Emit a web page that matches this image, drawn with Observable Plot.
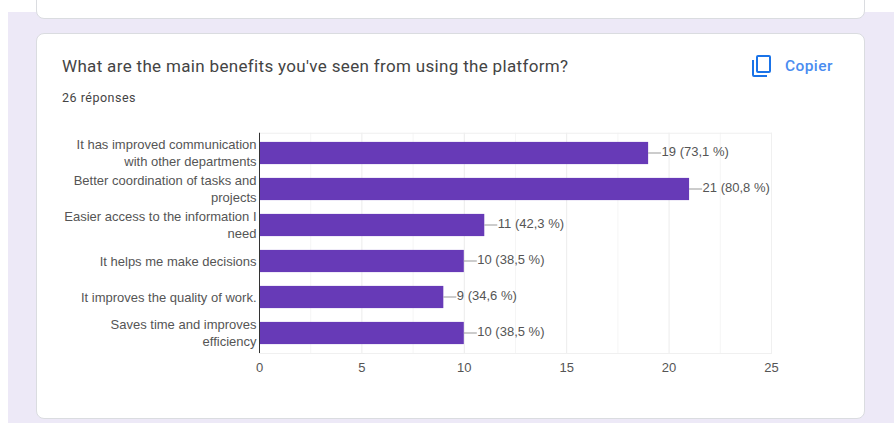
<!DOCTYPE html>
<html lang="fr">
<head>
<meta charset="utf-8">
<script src="https://cdn.jsdelivr.net/npm/d3@7"></script>
<script src="https://cdn.jsdelivr.net/npm/@observablehq/plot@0.6"></script>
<style>
  html, body { margin: 0; padding: 0; background: #fff; width: 894px; height: 423px; overflow: hidden; }
  .page { position: absolute; left: 8px; top: 12px; width: 886px; height: 411px; background: #ede9f7; }
  .card { position: absolute; box-sizing: border-box; background: #fff; border: 1px solid #dadce0; border-radius: 8px; left: 36px; width: 829px; }
  .prev { top: -20px; height: 39px; }
  .main { top: 33px; height: 386px; }
  .title { position: absolute; left: 62px; top: 56px; font: 400 17px/20px Roboto, sans-serif; color: #444; letter-spacing: .33px; white-space: nowrap; }
  .count { position: absolute; left: 62px; top: 90px; font: 400 12.5px/16px Roboto, sans-serif; color: #444; letter-spacing: .5px; white-space: nowrap; }
  .copy { position: absolute; left: 785px; top: 57px; font: 500 15.5px/18px Roboto, sans-serif; color: #4a8cf0; letter-spacing: .4px; white-space: nowrap; }
  .icon { position: absolute; left: 751px; top: 54px; }
  #chart { position: absolute; left: 0; top: 0; }
  #chart svg { display: block; background: transparent; }
</style>
</head>
<body>
<div class="page"></div>
<div class="card prev"></div>
<div class="card main"></div>
<div class="title">What are the main benefits you've seen from using the platform?</div>
<div class="count">26 réponses</div>
<svg class="icon" width="22" height="24" viewBox="0 0 22 24" fill="none" stroke="#1a73e8" stroke-width="2">
  <rect x="6" y="2" width="13" height="16" rx="1"></rect>
  <path d="M2 6v15a1 1 0 0 0 1 1h13"></path>
</svg>
<div class="copy">Copier</div>
<div id="chart"></div>
<script>
// Survey answers: one category per bar, with its respondent count and share.
const categories = [
  "It has improved communication\nwith other departments",
  "Better coordination of tasks and\nprojects",
  "Easier access to the information I\nneed",
  "It helps me make decisions",
  "It improves the quality of work.",
  "Saves time and improves\nefficiency"
];
const counts = [19, 21, 11, 10, 9, 10];
const shares = ["73,1", "80,8", "42,3", "38,5", "34,6", "38,5"];
const majorTicks = [0, 5, 10, 15, 20, 25];
const minorTicks = [2.5, 7.5, 12.5, 17.5, 22.5];

const rows = categories.map((category, i) => ({
  category,
  count: counts[i],
  label: `${counts[i]} (${shares[i]} %)`
}));

const textColor = "#555";

const chart = Plot.plot({
  width: 894,
  height: 423,
  marginLeft: 259,
  marginRight: 123,
  marginTop: 132.75,
  marginBottom: 70,
  style: { background: "transparent", fontFamily: "'Liberation Sans', Arial, sans-serif", fontSize: "13px" },
  x: { domain: [0, 25], label: null },
  y: { domain: categories, label: null, padding: 0 },
  marks: [
    Plot.ruleX(minorTicks, { stroke: "#f5f5f5" }),
    Plot.ruleX(majorTicks.slice(1), { stroke: "#ececec" }),
    Plot.frame({ stroke: "#f0f0f0" }),
    Plot.barX(rows, { x: "count", y: "category", fill: "#673ab7", insetTop: 6.9, insetBottom: 6.9 }),
    // Short leader from each bar end to its value label.
    Plot.ruleY(rows, { x1: "count", x2: "count", y: "category", dy: -0.5, insetRight: -13, stroke: "#999" }),
    Plot.text(rows, { x: "count", y: "category", text: "label", dx: 13, dy: -1.5, textAnchor: "start", fill: textColor, fontSize: 13 }),
    Plot.ruleX([0], { stroke: "#333" }),
    Plot.axisY({ anchor: "left", tickSize: 0, tickPadding: 3, dy: -1.5, lineHeight: 1.35, fill: textColor, fontSize: 13, label: null }),
    Plot.axisX({ anchor: "bottom", ticks: majorTicks, tickSize: 0, tickPadding: 9.5, fill: textColor, fontSize: 13, label: null })
  ]
});
document.getElementById("chart").append(chart);
</script>
</body>
</html>
